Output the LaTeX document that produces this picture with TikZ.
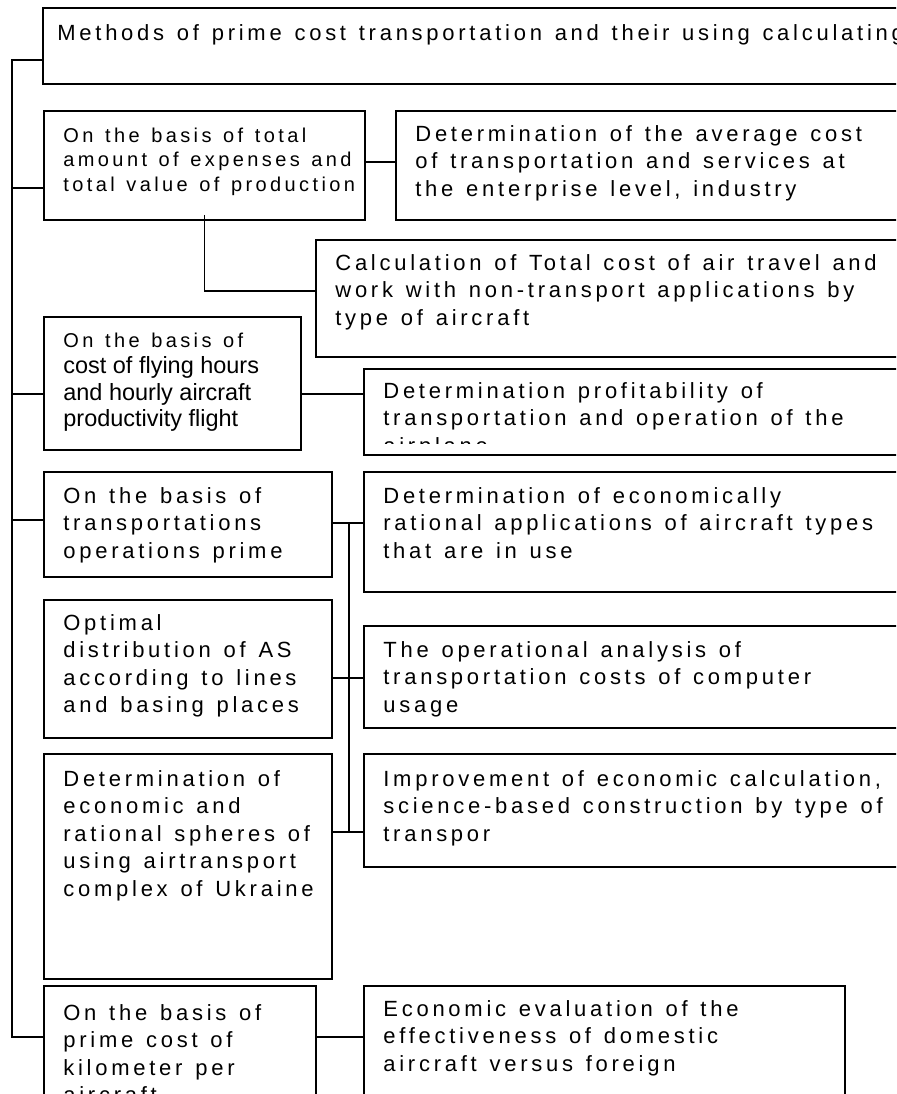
\documentclass[tikz,border=0pt]{standalone}
\usepackage{fontspec}
\setmainfont{Liberation Sans}[LetterSpace=17]
\newfontfamily\plainfont{Liberation Sans}
\newcommand{\boxfont}[2]{\fontsize{#1}{#2}\selectfont\spaceskip=0.58em plus 0.1em\relax}
\usetikzlibrary{calc, fit}

\tikzset{
    box/.style={draw, line width=1.3pt, inner sep=0pt},
    txt/.style={anchor=base west, inner sep=0pt, text width=800pt, align=flush left,
        font=\boxfont{16.5}{20.6}},
    link/.style={line width=1.3pt}
}

\begin{document}
\begin{tikzpicture}[x=0.75pt, y=-0.75pt]
        \useasboundingbox (0,0) rectangle (896,1094);
        \clip (0,0) rectangle (896,1094);
        % boxes, left column and right column
        \node[box, fit={(43,8) (930,84)}] (top) {};
        \node[box, fit={(44,111) (365,220)}] (total) {};
        \node[box, fit={(396,111) (930,220)}] (average) {};
        \node[box, fit={(316,240) (930,357)}] (air) {};
        \node[box, fit={(44,317) (301,450)}] (hours) {};
        \node[box, fit={(364,369) (930,455)}] (profit) {};
        \node[box, fit={(44,472) (332,577)}] (prime) {};
        \node[box, fit={(364,472) (930,592)}] (types) {};
        \node[box, fit={(44,600) (332,738)}] (optimal) {};
        \node[box, fit={(364,626) (930,728)}] (analysis) {};
        \node[box, fit={(44,754) (332,979)}] (spheres) {};
        \node[box, fit={(364,754) (930,867)}] (improve) {};
        \node[box, fit={(44,986) (316,1130)}] (km) {};
        \node[box, fit={(364,986) (845,1130)}] (foreign) {};
        % texts
        \node[txt] (top-t) at ($(top.north west)+(15,33)$) {Methods of prime cost transportation and their using calculating};
        \node[txt, font=\boxfont{15}{18.4}] (total-t) at ($(total.north west)+(20,32)$)
            {On the basis of total\\amount of expenses and\\total value of production};
        \node[txt] (average-t) at ($(average.north west)+(20,31)$)
            {Determination of the average cost\\of transportation and services at\\the enterprise level, industry};
        \node[txt] (air-t) at ($(air.north west)+(20,31)$)
            {Calculation of Total cost of air travel and\\work with non-transport applications by\\type of aircraft};
        \node[txt, font=\boxfont{15}{19.9}] (hours-t) at ($(hours.north west)+(20,31)$)
            {On the basis of\\\plainfont\fontsize{17.6}{19.9}\selectfont\spaceskip=0pt cost of flying hours\\and hourly aircraft\\productivity flight};
        \begin{scope}
            \clip (profit.north west) rectangle ($(profit.south east)+(0,-12)$);
            \node[txt] (profit-t) at ($(profit.north west)+(20,30)$)
                {Determination profitability of\\transportation and operation of the\\airplane};
        \end{scope}
        \node[txt] (prime-t) at ($(prime.north west)+(20,32)$)
            {On the basis of\\transportations\\operations prime};
        \node[txt] (types-t) at ($(types.north west)+(20,32)$)
            {Determination of economically\\rational applications of aircraft types\\that are in use};
        \node[txt] (optimal-t) at ($(optimal.north west)+(20,31)$)
            {Optimal\\distribution of AS\\according to lines\\and basing places};
        \node[txt] (analysis-t) at ($(analysis.north west)+(20,32)$)
            {The operational analysis of\\transportation costs of computer\\usage};
        \node[txt] (spheres-t) at ($(spheres.north west)+(20,33)$)
            {Determination of\\economic and\\rational spheres of\\using airtransport\\complex of Ukraine};
        \node[txt] (improve-t) at ($(improve.north west)+(20,33)$)
            {Improvement of economic calculation,\\science-based construction by type of\\transpor};
        \node[txt] (km-t) at ($(km.north west)+(20,35)$)
            {On the basis of\\prime cost of\\kilometer per\\aircraft};
        \node[txt] (foreign-t) at ($(foreign.north west)+(20,31)$)
            {Economic evaluation of the\\effectiveness of domestic\\aircraft versus foreign};
        % spine on the left
        \coordinate (s-top) at (12,60);
        \coordinate (s-bot) at (12,1037);
        \draw[link] (s-top -| top.west) -- (s-top) -- (s-bot) -- (s-bot -| km.west);
        \draw[link] (s-top |- 0,188) -- (total.west |- 0,188);
        \draw[link] (s-top |- 0,394) -- (hours.west |- 0,394);
        \draw[link] (s-top |- 0,520) -- (prime.west |- 0,520);
        % branches to the right
        \draw[link] (total.east |- 0,162) -- (average.west |- 0,162);
        \draw[link] ($(total.south)+(0,-6)$) |- (air.west |- 0,291);
        \draw[link] (hours.east |- 0,394) -- (profit.west |- 0,394);
        \draw[link] (km.east |- s-bot) -- (foreign.west |- s-bot);
        % bus in the middle
        \coordinate (b-top) at (349,523);
        \coordinate (b-bot) at (349,832);
        \draw[link] (b-top) -- (b-bot);
        \draw[link] (prime.east |- b-top) -- (types.west |- b-top);
        \draw[link] (optimal.east |- 0,678) -- (analysis.west |- 0,678);
        \draw[link] (spheres.east |- b-bot) -- (improve.west |- b-bot);
\end{tikzpicture}
\end{document}
